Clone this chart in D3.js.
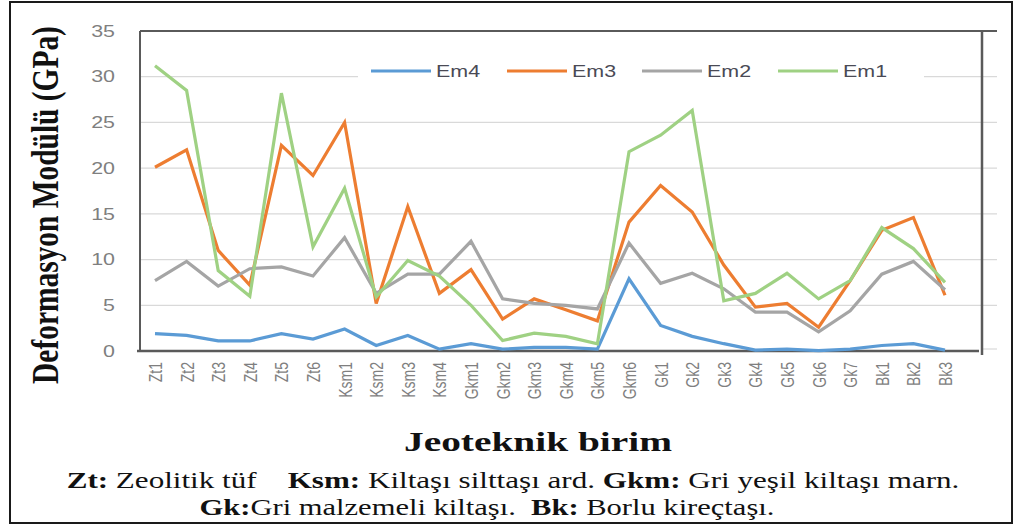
<!DOCTYPE html>
<html>
<head>
<meta charset="utf-8">
<script src="https://cdn.jsdelivr.net/npm/d3@7"></script>
<style>
  html, body { margin: 0; padding: 0; background: #fff; }
  svg { display: block; }
</style>
</head>
<body>
<svg id="chart" width="1014" height="526"></svg>
<script>
// Geotechnical units along the x axis
const units = ["Zt1","Zt2","Zt3","Zt4","Zt5","Zt6","Ksm1","Ksm2","Ksm3","Ksm4",
  "Gkm1","Gkm2","Gkm3","Gkm4","Gkm5","Gkm6","Gk1","Gk2","Gk3","Gk4","Gk5","Gk6","Gk7",
  "Bk1","Bk2","Bk3"];

// Deformation modulus (GPa) per unit
const em4 = [1.9,1.7,1.1,1.1,1.9,1.3,2.4,0.6,1.7,0.2,0.8,0.2,0.4,0.4,0.2,7.9,2.8,1.6,0.8,0.1,0.2,0.05,0.2,0.6,0.8,0.1];
const em3 = [20.1,22.0,11.0,7.2,22.5,19.2,25.0,5.2,15.8,6.3,8.9,3.5,5.7,4.5,3.3,14.1,18.1,15.2,9.4,4.8,5.2,2.6,7.7,13.2,14.6,6.1];
const em2 = [7.7,9.8,7.1,9.0,9.2,8.2,12.4,6.3,8.4,8.4,12.0,5.7,5.2,5.0,4.6,11.8,7.4,8.5,6.8,4.25,4.25,2.1,4.4,8.4,9.8,6.7];
const em1 = [31.2,28.5,8.8,6.0,28.2,11.4,17.8,5.9,9.9,8.2,5.0,1.15,1.95,1.6,0.8,21.8,23.6,26.3,5.5,6.3,8.5,5.7,7.7,13.5,11.2,7.5];

const seriesNames = ["Em4","Em3","Em2","Em1"];
const seriesColors = ["#5b9bd5","#ed7d31","#a5a5a5","#9fd183"];
const yTicks = [0,5,10,15,20,25,30,35];

const series = [em4, em3, em2, em1].map((vals, i) => ({
  name: seriesNames[i], color: seriesColors[i], values: vals
}));

const svg = d3.select("#chart");
const sans = "Liberation Sans, Arial, sans-serif";
const serif = "Liberation Serif, Times New Roman, serif";
const wide = 1.3; // horizontal stretch of the lettering

const plot = { left: 140, right: 982, top: 31, bottom: 351, gridRight: 997 };

const x = d3.scalePoint().domain(units).range([155, 945]);
const y = d3.scaleLinear().domain([0, 35]).range([plot.bottom, plot.top]);

// outer frame
svg.append("rect")
  .attr("x", 10).attr("y", 2).attr("width", 1002).attr("height", 521)
  .attr("fill", "none").attr("stroke", "#1a1a1a").attr("stroke-width", 2);

// horizontal gridlines
svg.append("g").selectAll("line")
  .data(yTicks.filter(t => t > 0 && t < 35))
  .join("line")
  .attr("x1", plot.left).attr("x2", plot.gridRight)
  .attr("y1", d => y(d)).attr("y2", d => y(d))
  .attr("stroke", "#d9d9d9").attr("stroke-width", 1.2);
svg.append("line")
  .attr("x1", plot.right).attr("x2", plot.gridRight)
  .attr("y1", y(0) - 2).attr("y2", y(0) - 2)
  .attr("stroke", "#d9d9d9").attr("stroke-width", 1.2);

// y axis tick labels
const yAxis = d3.axisLeft(y).tickValues(yTicks).tickSize(0).tickPadding(0);
const yg = svg.append("g").attr("transform", `translate(115,0)`).call(yAxis);
yg.select(".domain").remove();
yg.selectAll("text")
  .attr("x", 0)
  .attr("font-family", sans)
  .attr("font-size", 16.5).attr("fill", "#7f7f7f")
  .attr("transform", `scale(${wide},1)`);

// x axis tick labels (rotated)
const xAxis = d3.axisBottom(x).tickSize(0).tickPadding(0);
const xg = svg.append("g").attr("transform", `translate(0,${plot.bottom})`).call(xAxis);
xg.select(".domain").remove();
xg.selectAll("text")
  .attr("x", 0).attr("y", 0)
  .attr("font-family", sans)
  .attr("font-size", 14).attr("fill", "#7f7f7f")
  .attr("text-anchor", "end")
  .attr("dy", "0.36em")
  .attr("transform", `translate(0,11) scale(${wide},1) rotate(-90)`);

// frame lines of the plot area
const frame = svg.append("g").attr("stroke", "#5a5a5a").attr("fill", "none");
frame.append("line").attr("x1", plot.left).attr("x2", plot.gridRight)
  .attr("y1", plot.top).attr("y2", plot.top).attr("stroke-width", 2);
frame.append("line").attr("x1", plot.left).attr("x2", plot.left)
  .attr("y1", plot.top).attr("y2", plot.bottom).attr("stroke-width", 2);
frame.append("line").attr("x1", plot.right).attr("x2", plot.right)
  .attr("y1", plot.top).attr("y2", plot.bottom + 4).attr("stroke-width", 2.5);
frame.append("line").attr("x1", plot.left - 3).attr("x2", plot.right - 3)
  .attr("y1", plot.bottom).attr("y2", plot.bottom).attr("stroke-width", 2.5);

// legend box
svg.append("rect").attr("x", 358).attr("y", 60).attr("width", 566).attr("height", 22).attr("fill", "#fff");
const legendX = [371, 507, 642, 778];
const leg = svg.append("g").selectAll("g").data(series).join("g")
  .attr("transform", (d, i) => `translate(${legendX[i]},71)`);
leg.append("line").attr("x1", 0).attr("x2", 60).attr("y1", 0).attr("y2", 0)
  .attr("stroke", d => d.color).attr("stroke-width", 3);
leg.append("text")
  .attr("transform", `translate(65,0) scale(${wide},1)`)
  .attr("dy", "0.36em")
  .attr("font-family", sans)
  .attr("font-size", 16.5).attr("fill", "#4a4a55")
  .text(d => d.name);

// series lines
const line = d3.line().x((d, i) => x(units[i])).y(d => y(d));
svg.append("g").selectAll("path").data(series).join("path")
  .attr("d", d => line(d.values))
  .attr("fill", "none")
  .attr("stroke", d => d.color)
  .attr("stroke-width", 3.2)
  .attr("stroke-linejoin", "miter");

// scale factor that brings a text to a given run length
function fitText(sel, length) {
  const w = sel.node().getComputedTextLength();
  return w > 0 ? length / w : 1;
}

// y axis title
const yTitle = svg.append("text")
  .attr("text-anchor", "middle")
  .attr("font-family", serif)
  .attr("font-weight", "bold").attr("font-size", 29).attr("fill", "#111")
  .text("Deformasyon Modülü (GPa)");
yTitle.attr("transform", `translate(58,205) rotate(-90) scale(${fitText(yTitle, 358)},${wide})`);

// x axis title
const xTitle = svg.append("text")
  .attr("text-anchor", "middle")
  .attr("font-family", serif)
  .attr("font-weight", "bold").attr("font-size", 28).attr("fill", "#111")
  .text("Jeoteknik birim");
xTitle.attr("transform", `translate(538,451) scale(${fitText(xTitle, 268)},1)`);

// abbreviation notes
const notes1 = [["Zt:", true], [" Zeolitik tüf    ", false], ["Ksm:", true], [" Kiltaşı silttaşı ard. ", false], ["Gkm:", true], [" Gri yeşil kiltaşı marn.", false]];
const notes2 = [["Gk:", true], ["Gri malzemeli kiltaşı.  ", false], ["Bk:", true], [" Borlu kireçtaşı.", false]];
function noteLine(parts, cx, yPos, length) {
  const t = svg.append("text")
    .attr("text-anchor", "middle")
    .attr("font-family", serif)
    .attr("font-size", 24).attr("fill", "#111")
    .attr("xml:space", "preserve").style("white-space", "pre");
  parts.forEach(([s, b]) => t.append("tspan").attr("font-weight", b ? "bold" : "normal").text(s));
  t.attr("transform", `translate(${cx},${yPos}) scale(${fitText(t, length)},1)`);
}
noteLine(notes1, 513, 488, 893);
noteLine(notes2, 487, 515, 575);
</script>
</body>
</html>
